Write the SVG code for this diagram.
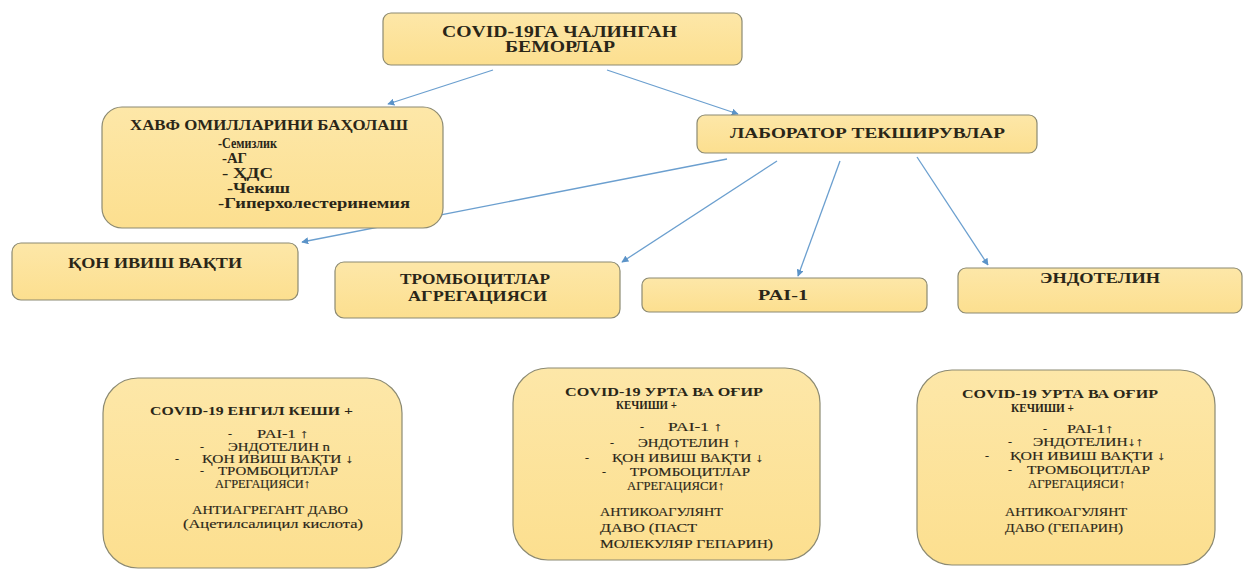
<svg xmlns="http://www.w3.org/2000/svg" width="1247" height="569" viewBox="0 0 1247 569">
<style>
.box{fill:url(#g);stroke:#8c8a72;stroke-width:1.2}
text{font-family:'Liberation Serif','Times New Roman',serif;fill:#2a2618}
.b{font-weight:bold}
.s{font-size:12px;stroke:#2a2618;stroke-width:0.15}
.st{font-size:12.5px}
.i{font-size:14px}
.m{font-size:15px}
.l{font-size:16px}
.c{stroke:#6b9fcf;stroke-width:1.3;fill:none;marker-end:url(#a)}
</style>
<defs>
<linearGradient id="g" x1="0" y1="0" x2="0" y2="1">
<stop offset="0" stop-color="#fde7a8"/>
<stop offset="1" stop-color="#fcdf8f"/>
</linearGradient>
<marker id="a" viewBox="0 0 10 10" refX="9" refY="5" markerWidth="7" markerHeight="7" orient="auto" markerUnits="userSpaceOnUse">
<path d="M0,0 L10,5 L0,10 z" fill="#5b93c8"/>
</marker>
</defs>
<rect width="1247" height="569" fill="#ffffff"/>
<g id="connectors">
<line class="c" x1="493" y1="70" x2="388" y2="104"/>
<line class="c" x1="607" y1="70" x2="738" y2="114"/>
<line class="c" x1="727" y1="159" x2="302" y2="242"/>
<line class="c" x1="777" y1="161" x2="622" y2="262"/>
<line class="c" x1="840" y1="161" x2="798" y2="276"/>
<line class="c" x1="917" y1="157" x2="988" y2="265"/>
</g>
<g id="n-patients">
<rect class="box" x="383" y="13" width="359" height="52" rx="8"/>
<text class="b l" x="442" y="37" textLength="235" lengthAdjust="spacingAndGlyphs">COVID-19ГА ЧАЛИНГАН</text>
<text class="b l" x="505" y="52" textLength="110" lengthAdjust="spacingAndGlyphs">БЕМОРЛАР</text>
</g>
<g id="n-risk">
<rect class="box" x="102" y="107" width="341" height="121" rx="20"/>
<text class="b m" x="130" y="130" textLength="278" lengthAdjust="spacingAndGlyphs">ХАВФ ОМИЛЛАРИНИ БАҲОЛАШ</text>
<text class="b i" x="218" y="148" textLength="59" lengthAdjust="spacingAndGlyphs">-Семизлик</text>
<text class="b i" x="222" y="163" textLength="25" lengthAdjust="spacingAndGlyphs">-АГ</text>
<text class="b i" x="222" y="178" textLength="51" lengthAdjust="spacingAndGlyphs">- ҲДС</text>
<text class="b i" x="227" y="193" textLength="63" lengthAdjust="spacingAndGlyphs">-Чекиш</text>
<text class="b i" x="218" y="208" textLength="192" lengthAdjust="spacingAndGlyphs">-Гиперхолестеринемия</text>
</g>
<g id="n-lab">
<rect class="box" x="697" y="115" width="340" height="38" rx="8"/>
<text class="b m" x="730" y="138" textLength="275" lengthAdjust="spacingAndGlyphs">ЛАБОРАТОР ТЕКШИРУВЛАР</text>
</g>
<g id="n-clot">
<rect class="box" x="12" y="243" width="286" height="57" rx="9"/>
<text class="b m" x="68" y="268" textLength="174" lengthAdjust="spacingAndGlyphs">ҚОН ИВИШ ВАҚТИ</text>
</g>
<g id="n-platelet">
<rect class="box" x="335" y="262" width="285" height="56" rx="9"/>
<text class="b m" x="400" y="284" textLength="150" lengthAdjust="spacingAndGlyphs">ТРОМБОЦИТЛАР</text>
<text class="b m" x="408" y="301" textLength="139" lengthAdjust="spacingAndGlyphs">АГРЕГАЦИЯСИ</text>
</g>
<g id="n-pai">
<rect class="box" x="642" y="278" width="285" height="34" rx="7"/>
<text class="b m" x="758" y="300" textLength="50" lengthAdjust="spacingAndGlyphs">PAI-1</text>
</g>
<g id="n-endothelin">
<rect class="box" x="958" y="268" width="284" height="45" rx="8"/>
<text class="b m" x="1040" y="283" textLength="120" lengthAdjust="spacingAndGlyphs">ЭНДОТЕЛИН</text>
</g>
<g id="n-mild">
<rect class="box" x="103" y="378" width="299" height="190" rx="35"/>
<text class="b st" x="150" y="415" textLength="203" lengthAdjust="spacingAndGlyphs">COVID-19 ЕНГИЛ КЕШИ +</text>
<text class="s" x="228" y="438">-</text>
<text class="s" x="257" y="438" textLength="51" lengthAdjust="spacingAndGlyphs">PAI-1 ↑</text>
<text class="s" x="200" y="451">-</text>
<text class="s" x="228" y="451" textLength="102" lengthAdjust="spacingAndGlyphs">ЭНДОТЕЛИН n</text>
<text class="s" x="175" y="463">-</text>
<text class="s" x="202" y="463" textLength="151" lengthAdjust="spacingAndGlyphs">ҚОН ИВИШ ВАҚТИ ↓</text>
<text class="s" x="200" y="475">-</text>
<text class="s" x="218" y="475" textLength="120" lengthAdjust="spacingAndGlyphs">ТРОМБОЦИТЛАР</text>
<text class="s" x="215" y="488" textLength="95" lengthAdjust="spacingAndGlyphs">АГРЕГАЦИЯСИ↑</text>
<text class="s" x="192" y="514" textLength="156" lengthAdjust="spacingAndGlyphs">АНТИАГРЕГАНТ ДАВО</text>
<text class="s" x="183" y="528" textLength="180" lengthAdjust="spacingAndGlyphs">(Ацетилсалицил кислота)</text>
</g>
<g id="n-moderate1">
<rect class="box" x="513" y="368" width="307" height="192" rx="35"/>
<text class="b st" x="565" y="396" textLength="198" lengthAdjust="spacingAndGlyphs">COVID-19 УРТА ВА ОҒИР</text>
<text class="b st" x="616" y="409" textLength="61" lengthAdjust="spacingAndGlyphs">КЕЧИШИ +</text>
<text class="s" x="640" y="431">-</text>
<text class="s" x="668" y="431" textLength="54" lengthAdjust="spacingAndGlyphs">PAI-1 ↑</text>
<text class="s" x="610" y="447">-</text>
<text class="s" x="638" y="447" textLength="102" lengthAdjust="spacingAndGlyphs">ЭНДОТЕЛИН ↑</text>
<text class="s" x="585" y="462">-</text>
<text class="s" x="612" y="462" textLength="151" lengthAdjust="spacingAndGlyphs">ҚОН ИВИШ ВАҚТИ ↓</text>
<text class="s" x="602" y="476">-</text>
<text class="s" x="630" y="476" textLength="120" lengthAdjust="spacingAndGlyphs">ТРОМБОЦИТЛАР</text>
<text class="s" x="627" y="490" textLength="97" lengthAdjust="spacingAndGlyphs">АГРЕГАЦИЯСИ↑</text>
<text class="s" x="600" y="516" textLength="123" lengthAdjust="spacingAndGlyphs">АНТИКОАГУЛЯНТ</text>
<text class="s" x="600" y="532" textLength="97" lengthAdjust="spacingAndGlyphs">ДАВО (ПАСТ</text>
<text class="s" x="600" y="548" textLength="173" lengthAdjust="spacingAndGlyphs">МОЛЕКУЛЯР ГЕПАРИН)</text>
</g>
<g id="n-moderate2">
<rect class="box" x="917" y="370" width="298" height="195" rx="35"/>
<text class="b st" x="962" y="398" textLength="196" lengthAdjust="spacingAndGlyphs">COVID-19 УРТА ВА ОҒИР</text>
<text class="b st" x="1011" y="412" textLength="63" lengthAdjust="spacingAndGlyphs">КЕЧИШИ +</text>
<text class="s" x="1043" y="433">-</text>
<text class="s" x="1067" y="433" textLength="46" lengthAdjust="spacingAndGlyphs">PAI-1↑</text>
<text class="s" x="1008" y="446">-</text>
<text class="s" x="1033" y="446" textLength="110" lengthAdjust="spacingAndGlyphs">ЭНДОТЕЛИН↓↑</text>
<text class="s" x="985" y="460">-</text>
<text class="s" x="1010" y="460" textLength="155" lengthAdjust="spacingAndGlyphs">ҚОН ИВИШ ВАҚТИ ↓</text>
<text class="s" x="1008" y="474">-</text>
<text class="s" x="1027" y="474" textLength="123" lengthAdjust="spacingAndGlyphs">ТРОМБОЦИТЛАР</text>
<text class="s" x="1028" y="488" textLength="97" lengthAdjust="spacingAndGlyphs">АГРЕГАЦИЯСИ↑</text>
<text class="s" x="1005" y="516" textLength="122" lengthAdjust="spacingAndGlyphs">АНТИКОАГУЛЯНТ</text>
<text class="s" x="1005" y="532" textLength="118" lengthAdjust="spacingAndGlyphs">ДАВО (ГЕПАРИН)</text>
</g>
</svg>
